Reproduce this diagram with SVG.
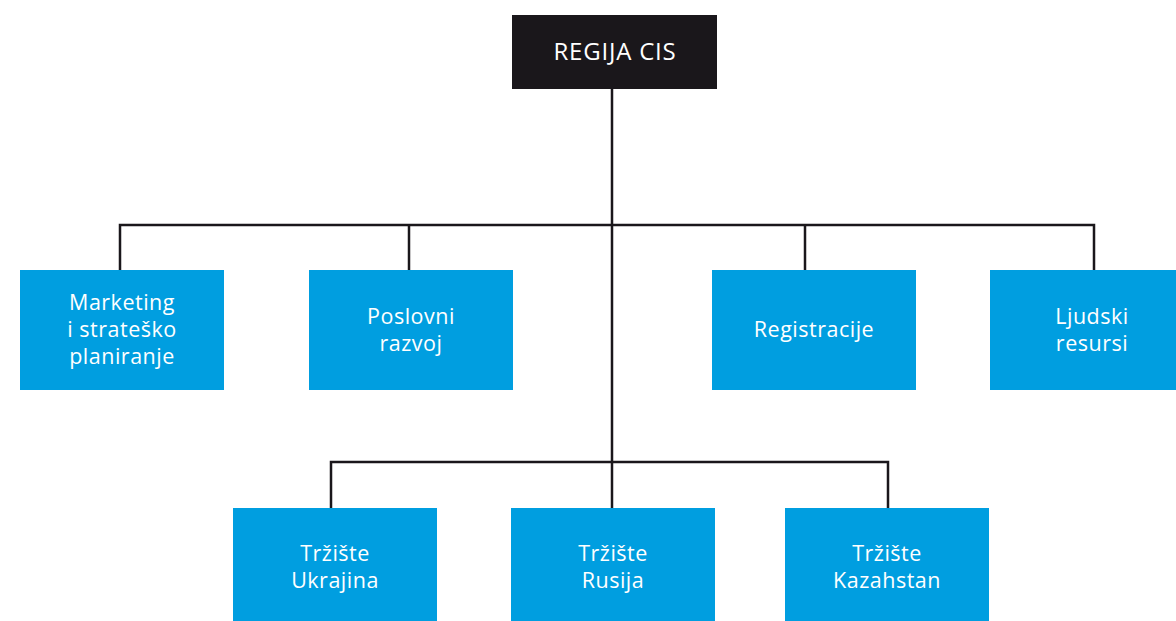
<svg xmlns="http://www.w3.org/2000/svg" width="1176" height="621" viewBox="0 0 1176 621">
<style>
.box{fill:#009ee0}
.root{fill:#1a171b}
.t{font-family:"Open Sans",Lato,sans-serif;font-size:21.5px;letter-spacing:0.5px;fill:#ffffff;text-anchor:middle}
.rt{font-family:"Open Sans",Lato,sans-serif;font-size:24px;letter-spacing:0.8px;fill:#ffffff;text-anchor:middle}
.c{fill:none;stroke:#1a171b;stroke-width:2.5}
</style>
<rect width="1176" height="621" fill="#ffffff"/>
<g id="connectors">
<path class="c" d="M612 89 V462"/>
<path class="c" d="M120 270 V225 H1094 V270"/>
<path class="c" d="M409 225 V270"/>
<path class="c" d="M805 225 V270"/>
<path class="c" d="M331 508 V462 H888 V508"/>
<path class="c" d="M612 462 V508"/>
</g>
<g id="root">
<rect class="root" x="512" y="15" width="205" height="74"/>
<text class="rt" x="615" y="60">REGIJA CIS</text>
</g>
<g id="marketing">
<rect class="box" x="20" y="270" width="204" height="120"/>
<text class="t" x="122" y="310">Marketing</text>
<text class="t" x="122" y="337">i strateško</text>
<text class="t" x="122" y="364">planiranje</text>
</g>
<g id="poslovni">
<rect class="box" x="309" y="270" width="204" height="120"/>
<text class="t" x="411" y="324">Poslovni</text>
<text class="t" x="411" y="351">razvoj</text>
</g>
<g id="registracije">
<rect class="box" x="712" y="270" width="204" height="120"/>
<text class="t" x="814" y="337">Registracije</text>
</g>
<g id="ljudski">
<rect class="box" x="990" y="270" width="204" height="120"/>
<text class="t" x="1092" y="324">Ljudski</text>
<text class="t" x="1092" y="351">resursi</text>
</g>
<g id="ukrajina">
<rect class="box" x="233" y="508" width="204" height="120"/>
<text class="t" x="335" y="561">Tržište</text>
<text class="t" x="335" y="588">Ukrajina</text>
</g>
<g id="rusija">
<rect class="box" x="511" y="508" width="204" height="120"/>
<text class="t" x="613" y="561">Tržište</text>
<text class="t" x="613" y="588">Rusija</text>
</g>
<g id="kazahstan">
<rect class="box" x="785" y="508" width="204" height="120"/>
<text class="t" x="887" y="561">Tržište</text>
<text class="t" x="887" y="588">Kazahstan</text>
</g>
</svg>
